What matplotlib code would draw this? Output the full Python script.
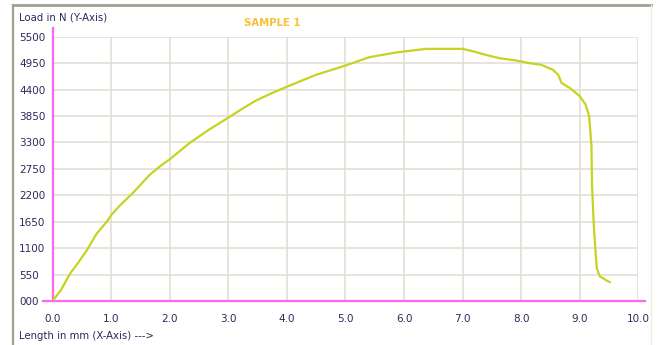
import matplotlib
matplotlib.use('Agg')
import matplotlib.pyplot as plt
from matplotlib.lines import Line2D
import numpy as np

# load-elongation curve
length_mm = [0, 0.15, 0.29, 0.44, 0.58, 0.75, 0.92, 1.0, 1.15, 1.37, 1.66, 1.85,
             2.0, 2.34, 2.68, 3.0, 3.25, 3.47, 3.75, 3.99, 4.5, 5.0, 5.41, 5.86,
             6.14, 6.37, 7.0, 7.19, 7.39, 7.62, 7.9, 8.07, 8.14, 8.34, 8.54, 8.63,
             8.69, 8.83, 9.0, 9.1, 9.16, 9.2, 9.21, 9.24, 9.27, 9.29, 9.34, 9.43, 9.51]
load_n = [0, 245, 560, 805, 1050, 1400, 1645, 1790, 1990, 2250, 2630, 2820,
          2950, 3290, 3574, 3817, 4010, 4170, 4330, 4455, 4708, 4900, 5075, 5170,
          5212, 5247, 5247, 5192, 5124, 5055, 5007, 4966, 4950, 4916, 4812, 4710,
          4537, 4434, 4262, 4090, 3850, 3231, 2406, 1581, 1031, 688, 516, 447, 392]

x_ticks = [0, 1, 2, 3, 4, 5, 6, 7, 8, 9, 10]
x_tick_labels = ['0.0', '1.0', '2.0', '3.0', '4.0', '5.0', '6.0', '7.0', '8.0', '9.0', '10.0']
y_ticks = [0, 550, 1100, 1650, 2200, 2750, 3300, 3850, 4400, 4950, 5500]
y_tick_labels = ['000', '550', '1100', '1650', '2200', '2750', '3300', '3850', '4400', '4950', '5500']

W, H = 657, 345
fig = plt.figure(figsize=(W / 100, H / 100), dpi=100)
fig.patch.set_facecolor('white')
ax = fig.add_axes([52.7 / W, 1 - 301 / H, (638.3 - 52.7) / W, (301 - 36.7) / H])

navy = '#2a2a5e'
font = 'DejaVu Sans'

grid_col = '#e0ddd5'
ax.set_xlim(0, 10)
ax.set_ylim(0, 5500)
ax.set_xticks(x_ticks)
ax.set_yticks(y_ticks)
ax.grid(True, color=grid_col, lw=1.1)
ax.set_axisbelow(True)
for s in ax.spines.values():
    s.set_visible(False)

ax.set_xticklabels(x_tick_labels, fontsize=7.5, color=navy, family=font)
ax.set_yticklabels(y_tick_labels, fontsize=7.5, color=navy, family=font)
ax.tick_params(axis='both', length=0)
ax.tick_params(axis='x', pad=9)
ax.tick_params(axis='y', pad=24.3)
for lab in ax.get_yticklabels():
    lab.set_horizontalalignment('left')

# pink axis lines
pink = '#ff66ee'
ax.axhline(0, xmin=-0.017, xmax=1.012, color=pink, lw=1.6, clip_on=False, zorder=3)
ax.axvline(0, ymin=0, ymax=1.033, color=pink, lw=1.6, clip_on=False, zorder=3)

ax.plot(length_mm, load_n, color='#c6d320', lw=1.6, zorder=4)

# texts
fig.text(19 / W, 1 - 17 / H, 'Load in N (Y-Axis)', fontsize=7.3, color=navy,
         family=font, ha='left', va='center')
fig.text(272 / W, 1 - 23 / H, 'SAMPLE 1', fontsize=7.3, color='#f5c232',
         family=font, weight='bold', ha='center', va='center')
fig.text(19 / W, 1 - 336 / H, 'Length in mm (X-Axis) --->', fontsize=7.3, color=navy,
         family=font, ha='left', va='center')

# window frame
frame = '#a29f92'
fig.add_artist(Line2D([13 / W, 13 / W], [0, 1 - 5 / H], color=frame, lw=1.6))
fig.add_artist(Line2D([13 / W, 651 / W], [1 - 5 / H, 1 - 5 / H], color=frame, lw=2))
fig.add_artist(Line2D([651 / W, 651 / W], [0, 1 - 5 / H], color='#eeecdf', lw=1))

fig.savefig('out.png', dpi=100)
